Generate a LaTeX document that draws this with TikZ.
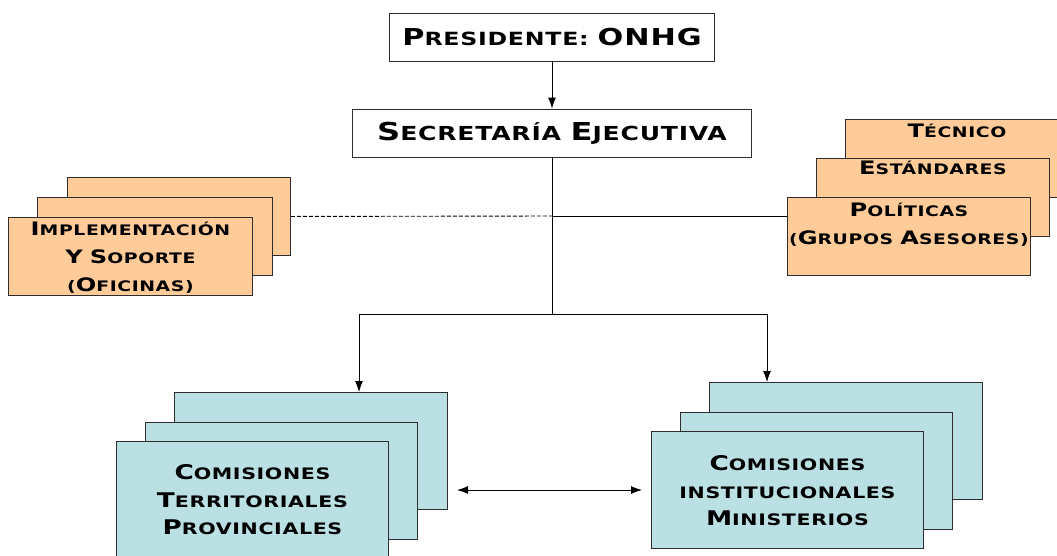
\documentclass[tikz,border=0pt]{standalone}
\usepackage{fontspec}
\setmainfont{DejaVu Sans}[FakeStretch=1.3, LetterSpace=4]
\usepackage{graphicx}
\usepackage{tikz}
\usetikzlibrary{arrows.meta}
\definecolor{naranja}{RGB}{255,204,153}
\definecolor{celeste}{RGB}{187,224,227}
\definecolor{borde}{RGB}{45,45,45}
\newcommand{\Mayus}[1]{\scalebox{1.28}{#1}}
\tikzset{
	hoja/.style={draw=borde, line width=0.9pt, anchor=north west, inner sep=0pt},
	naranjabox/.style={hoja, fill=naranja, minimum height=78pt},
	celestebox/.style={hoja, fill=celeste, minimum width=272pt, minimum height=117pt},
	jefe/.style={draw=borde, line width=0.9pt, fill=white, minimum height=48pt, inner sep=0pt},
	rotulo/.style={anchor=north, align=center, inner sep=0pt, font=\bfseries\fontsize{14.5}{28}\selectfont},
	cuerpo/.style={align=center, font=\bfseries\fontsize{15.8}{27.5}\selectfont},
	linea/.style={draw=black, line width=0.9pt},
	punta/.style={-{Latex[length=11pt, width=8pt]}},
	doble/.style={{Latex[length=11pt, width=8pt]}-{Latex[length=11pt, width=8pt]}},
}
\begin{document}
\begin{tikzpicture}[x=1pt, y=-1pt]
	\useasboundingbox (0, 0) rectangle (1057, 555);
	% Boxes, texts and wires:
	\node[jefe, minimum width=325pt, font=\bfseries\fontsize{18.2}{20}\selectfont](P1) at (552, 37){\Mayus{P}RESIDENTE: \Mayus{ONHG}};
	\node[jefe, minimum width=399pt, font=\bfseries\fontsize{19.3}{22}\selectfont](S1) at (552, 133){\Mayus{S}ECRETARÍA \Mayus{E}JECUTIVA};
	% left orange stack
	\node[naranjabox, minimum width=223pt](I3) at (67, 177){};
	\node[naranjabox, minimum width=235pt](I2) at (37, 197){};
	\node[naranjabox, minimum width=244pt](I1) at (8, 217){};
	\node[rotulo](T1) at ([yshift=-5pt]I1.north){\Mayus{I}MPLEMENTACIÓN\\\Mayus{Y} \Mayus{S}OPORTE\\(\Mayus{O}FICINAS)};
	% right orange stack
	\node[naranjabox, minimum width=223pt](A3) at (845, 119){};
	\node[naranjabox, minimum width=233pt](A2) at (816, 158){};
	\node[naranjabox, minimum width=243pt](A1) at (787, 197){};
	\node[rotulo](T2) at ([yshift=-5pt]A3.north){\Mayus{T}ÉCNICO};
	\node[rotulo](T3) at ([yshift=-3pt]A2.north){\Mayus{E}STÁNDARES};
	\node[rotulo](T4) at ([yshift=-6pt]A1.north){\Mayus{P}OLÍTICAS\\(\Mayus{G}RUPOS \Mayus{A}SESORES)};
	% teal stacks
	\node[celestebox, minimum width=273pt](C3) at (174, 392){};
	\node[celestebox](C2) at (145, 422){};
	\node[celestebox](C1) at (116, 441){};
	\node[cuerpo](T5) at (C1.center){\Mayus{C}OMISIONES\\\Mayus{T}ERRITORIALES\\\Mayus{P}ROVINCIALES};
	\node[celestebox, minimum width=273pt](D3) at (709, 382){};
	\node[celestebox](D2) at (680, 412){};
	\node[celestebox](D1) at (651, 431){};
	\node[cuerpo](T6) at ([yshift=-1pt]D1.center){\Mayus{C}OMISIONES\\INSTITUCIONALES\\\Mayus{M}INISTERIOS};
	\coordinate (X1) at (552, 216);
	\coordinate (X2) at (552, 314);
	\coordinate (X3) at (359, 314);
	\coordinate (X4) at (767, 314);
	\coordinate (X5) at (457, 490);
	\coordinate (X6) at (642, 490);
	\draw[linea, punta] (P1) -- (S1);
	\draw[linea] (S1) -- (X2);
	\draw[linea, dash pattern=on 4pt off 2pt] (I3.east) -- (X1);
	\draw[linea] (X1) -- (X1 -| A1.west);
	\draw[linea, punta] (X2) -- (X3) -- (X3 |- C3.north);
	\draw[linea, punta] (X2) -- (X4) -- (X4 |- D3.north);
	\draw[linea, doble] (X5) -- (X6);
\end{tikzpicture}
\end{document}
